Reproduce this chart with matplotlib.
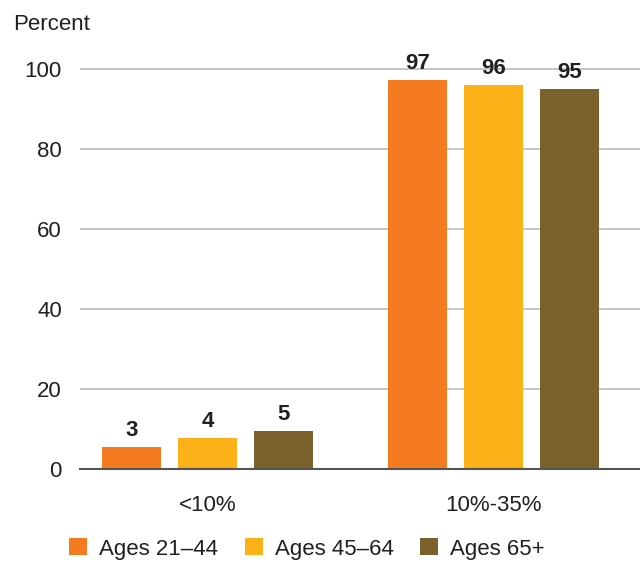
import matplotlib
matplotlib.use("Agg")
import matplotlib.pyplot as plt
from matplotlib.patches import Patch
import numpy as np

plt.rcParams['font.family'] = ['Liberation Sans', 'DejaVu Sans']

categories = ["<10%", "10%-35%"]
series = ["Ages 21\u201344", "Ages 45\u201364", "Ages 65+"]
labels = {
    "Ages 21\u201344": [3, 97],
    "Ages 45\u201364": [4, 96],
    "Ages 65+": [5, 95],
}
# bar heights as drawn in the source chart
heights = {
    "Ages 21\u201344": [5.4, 97.2],
    "Ages 45\u201364": [7.7, 95.9],
    "Ages 65+": [9.4, 94.9],
}
colors = ["#F47B20", "#FBB117", "#7B612B"]
yticks = [0, 20, 40, 60, 80, 100]

fig = plt.figure(figsize=(6.4, 5.62), dpi=100)
ax = fig.add_axes([80/640, 1-468.7/562, 560/640, (468.7-50)/562])

x = np.arange(len(categories))
w = 0.206
off = 0.266
for i, s in enumerate(series):
    xs = x + (i-1)*off
    ax.bar(xs, heights[s], width=w, color=colors[i], zorder=3)
    for xi, h, lab in zip(xs, heights[s], labels[s]):
        ax.annotate(str(lab), (xi, h), xytext=(0, 8), textcoords='offset points',
                    ha='center', va='baseline', fontsize=16, fontweight='bold',
                    color='#231F20', zorder=4)

ax.set_ylim(0, (468.7-50)/4)
ax.set_xlim(-0.446, 1.512)
ax.set_yticks(yticks)
ax.set_yticklabels([str(t) for t in yticks])
ax.set_xticks(x)
ax.set_xticklabels(categories)
ax.tick_params(axis='both', length=0, labelsize=16, labelcolor='#231F20')
ax.tick_params(axis='y', pad=13)
ax.tick_params(axis='x', pad=19)
ax.grid(axis='y', color='#BBBBBB', linewidth=1.2, zorder=0)
for sp in ['top', 'right', 'left']:
    ax.spines[sp].set_visible(False)
ax.spines['bottom'].set_color('#555555')
ax.spines['bottom'].set_linewidth(1.5)
ax.spines['bottom'].set_zorder(5)

fig.text(13/640, 1-24/562, "Percent", fontsize=16, color='#231F20', va='center', ha='left')

handles = [Patch(facecolor=c, label=s) for c, s in zip(colors, series)]
fig.legend(handles=handles, loc='center', bbox_to_anchor=(0.48, 1-549/562), ncol=3,
           frameon=False, fontsize=16, handlelength=0.8, handleheight=0.8,
           handletextpad=0.55, columnspacing=1.2, labelcolor='#231F20')

fig.savefig("out.png", dpi=100)
